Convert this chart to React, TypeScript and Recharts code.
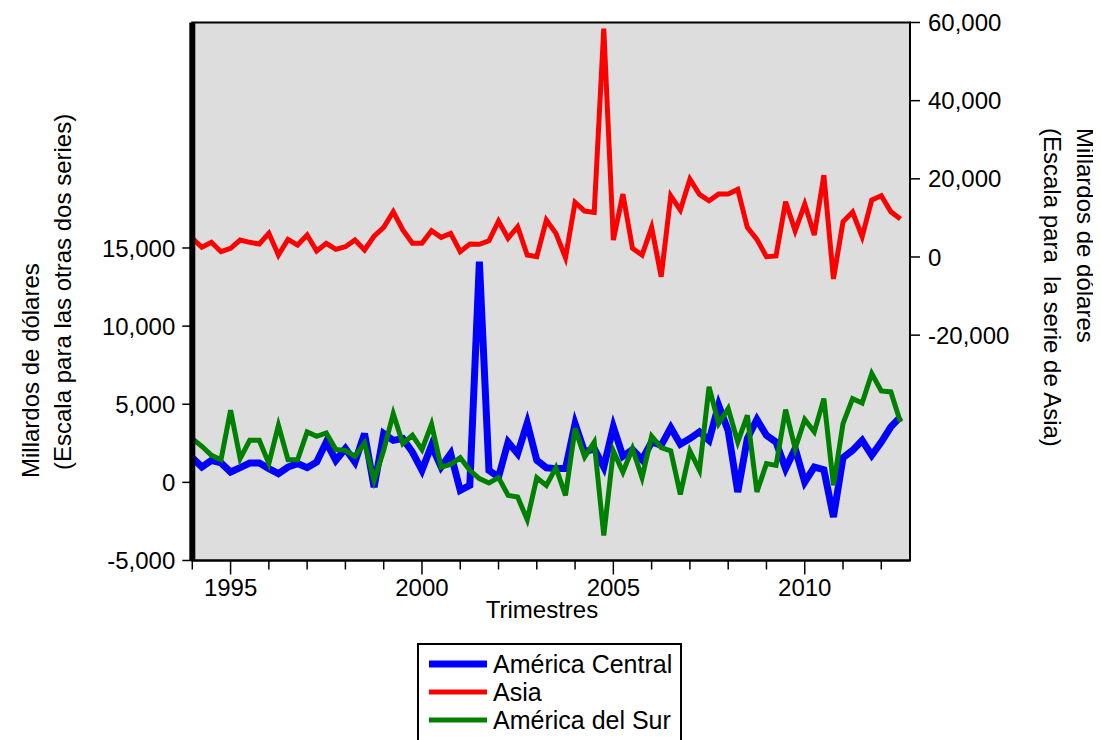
import React from 'react';
import { LineChart, Line, XAxis, YAxis, ReferenceArea } from 'recharts';

const START_YEAR = 1994;
const QUARTERS: string[] = [];
for (let k = 0; k < 75; k++) QUARTERS.push(`${START_YEAR + Math.floor(k / 4)}Q${(k % 4) + 1}`);

const AMERICA_CENTRAL = [
  1580, 980, 1410, 1240, 660, 940, 1240, 1240, 880, 560,
  980, 1200, 940, 1300, 2580, 1410, 2160, 1300, 3120, -300,
  3120, 2690, 2800, 1940, 770, 2370, 980, 1840, -510, -190,
  14120, 770, 340, 2580, 1840, 3800, 1410, 930, 880, 880,
  3760, 1940, 2160, 980, 3550, 1670, 2100, 1450, 2580, 2370,
  3500, 2440, 2800, 3230, 2690, 4940, 3300, -620, 2800, 4020,
  3010, 2580, 880, 2160, 20, 980, 810, -2220, 1580, 2050,
  2690, 1730, 2580, 3550, 4190,
];

const ASIA = [
  4780, 2480, 3750, 1350, 2220, 4340, 3750, 3320, 6050, 510,
  4520, 3060, 5620, 1530, 3500, 1970, 2630, 4340, 1790, 5360,
  7590, 11570, 6900, 3500, 3500, 6720, 5030, 6050, 1350, 3320,
  3240, 4160, 9190, 4780, 7750, 510, 80, 9450, 6050, -180,
  13970, 11750, 11420, 58410, 4340, 16090, 2220, 510, 7590, -5030,
  15660, 12000, 19920, 16010, 14380, 16090, 16090, 17290, 7590, 4520,
  80, 260, 14120, 6720, 13540, 5620, 20940, -5620, 9020, 11490,
  5180, 14560, 15660, 11570, 9700,
];

const AMERICA_SUR = [
  2800, 2310, 1730, 1450, 4620, 1520, 2690, 2690, 1200, 3650,
  1450, 1450, 3230, 2950, 3160, 2100, 2050, 1670, 2520, 130,
  2050, 4400, 2480, 3010, 2100, 3720, 980, 1150, 1580, 770,
  240, -40, 300, -830, -940, -2390, 300, -190, 940, -830,
  3440, 1620, 2580, -3400, 2010, 660, 2160, 300, 2950, 2220,
  2010, -770, 2010, 770, 6110, 3760, 4720, 2580, 4290, -620,
  1200, 1090, 4660, 2160, 4020, 3230, 5360, -190, 3760, 5360,
  5080, 6970, 5850, 5790, 3870,
];

const X_TICKS = [0, 4, 8, 12, 16, 20, 24, 28, 32, 36, 40, 44, 48, 52, 56, 60, 64, 68, 72];
const X_TICK_LABELS: Record<number, string> = { 4: '1995', 24: '2000', 44: '2005', 64: '2010' };
const LEFT_TICKS = [-5000, 0, 5000, 10000, 15000];
const RIGHT_TICKS = [-20000, 0, 20000, 40000, 60000];
const LEFT_DOMAIN: [number, number] = [-5000, 29430];
const RIGHT_DOMAIN: [number, number] = [-77660, 60000];

const SERIES_NAMES = ['América Central', 'Asia', 'América del Sur'];
const COLORS = ['#0000ff', '#ff0000', '#008000'];

const data = QUARTERS.map((q, i) => ({
  i,
  q,
  ca: AMERICA_CENTRAL[i],
  asia: ASIA[i],
  sa: AMERICA_SUR[i],
}));

const FONT = '"Liberation Sans", Arial, sans-serif';
const fmt = (v: number) => v.toLocaleString('en-US');

const XTick = (props: any) => {
  const { x, y, payload } = props;
  const label = X_TICK_LABELS[payload.value];
  return (
    <g>
      <line x1={x} x2={x} y1={y} y2={y + (label ? 14 : 9)} stroke="#000" strokeWidth={1.5} />
      {label && (
        <text x={x} y={y + 35} textAnchor="middle" fontSize={24} fontFamily={FONT} fill="#000">
          {label}
        </text>
      )}
    </g>
  );
};

export default function App() {
  const W = 1093;
  const H = 732;
  return (
    <div style={{ position: 'relative', width: W, height: H, background: '#fff' }}>
      <LineChart
        width={W}
        height={H}
        data={data}
        margin={{ top: 14.5, right: 91, bottom: 139.5, left: 84.3 }}
      >
        <XAxis
          dataKey="i"
          type="number"
          domain={[0, 75]}
          ticks={X_TICKS}
          interval={0}
          tick={<XTick />}
          tickLine={false}
          tickSize={0}
          tickMargin={0}
          height={40}
          axisLine={{ stroke: '#000', strokeWidth: 2 }}
        />
        <YAxis
          yAxisId="left"
          orientation="left"
          type="number"
          domain={LEFT_DOMAIN}
          allowDataOverflow
          ticks={LEFT_TICKS}
          interval={0}
          tickFormatter={fmt}
          width={100}
          tickSize={10}
          tickMargin={7}
          tick={{ fontSize: 24, fill: '#000', fontFamily: FONT }}
          tickLine={{ stroke: '#000', strokeWidth: 1.5 }}
          axisLine={{ stroke: '#000', strokeWidth: 6 }}
        />
        <YAxis
          yAxisId="right"
          orientation="right"
          type="number"
          domain={RIGHT_DOMAIN}
          allowDataOverflow
          ticks={RIGHT_TICKS}
          interval={0}
          tickFormatter={fmt}
          width={100}
          tickSize={10}
          tickMargin={8}
          tick={{ fontSize: 24, fill: '#000', fontFamily: FONT }}
          tickLine={{ stroke: '#000', strokeWidth: 1.5 }}
          axisLine={{ stroke: '#000', strokeWidth: 2 }}
        />
        <ReferenceArea
          yAxisId="left"
          x1={0}
          x2={75}
          y1={LEFT_DOMAIN[0]}
          y2={LEFT_DOMAIN[1]}
          fill="#dddddd"
          fillOpacity={1}
          stroke="#000"
          strokeWidth={2}
          ifOverflow="extendDomain"
        />
        <Line yAxisId="left" type="linear" dataKey="ca" name={SERIES_NAMES[0]} stroke={COLORS[0]} strokeWidth={7} dot={false} isAnimationActive={false} />
        <Line yAxisId="right" type="linear" dataKey="asia" name={SERIES_NAMES[1]} stroke={COLORS[1]} strokeWidth={5} dot={false} isAnimationActive={false} />
        <Line yAxisId="left" type="linear" dataKey="sa" name={SERIES_NAMES[2]} stroke={COLORS[2]} strokeWidth={5} dot={false} isAnimationActive={false} />
      </LineChart>
      <svg
        width={W}
        height={H}
        style={{ position: 'absolute', left: 0, top: 0, pointerEvents: 'none' }}
      >
        <g transform="translate(-8,-8)" fontFamily={FONT} fill="#000">
          <text x={542} y={618} textAnchor="middle" fontSize={24}>Trimestres</text>
          <text transform="translate(30,478) rotate(-90)" textAnchor="start" dominantBaseline="central" fontSize={24}>
            Millardos de dólares
          </text>
          <text transform="translate(62,470) rotate(-90)" textAnchor="start" dominantBaseline="central" fontSize={24}>
            (Escala para las otras dos series)
          </text>
          <text transform="translate(1085,128) rotate(90)" textAnchor="start" dominantBaseline="central" fontSize={24}>
            Millardos de dólares
          </text>
          <text transform="translate(1052,128) rotate(90)" textAnchor="start" dominantBaseline="central" fontSize={24} style={{ whiteSpace: 'pre' }}>
            {'(Escala para  la serie de Asia)'}
          </text>
          <rect x={418} y={644} width={263} height={110} fill="#fff" stroke="#000" strokeWidth={2} />
          {SERIES_NAMES.map((n, k) => (
            <g key={n}>
              <line x1={429} x2={487} y1={664 + k * 28} y2={664 + k * 28} stroke={COLORS[k]} strokeWidth={k === 0 ? 7 : 5} />
              <text x={493} y={673 + k * 28} fontSize={25}>{n}</text>
            </g>
          ))}
        </g>
      </svg>
    </div>
  );
}
